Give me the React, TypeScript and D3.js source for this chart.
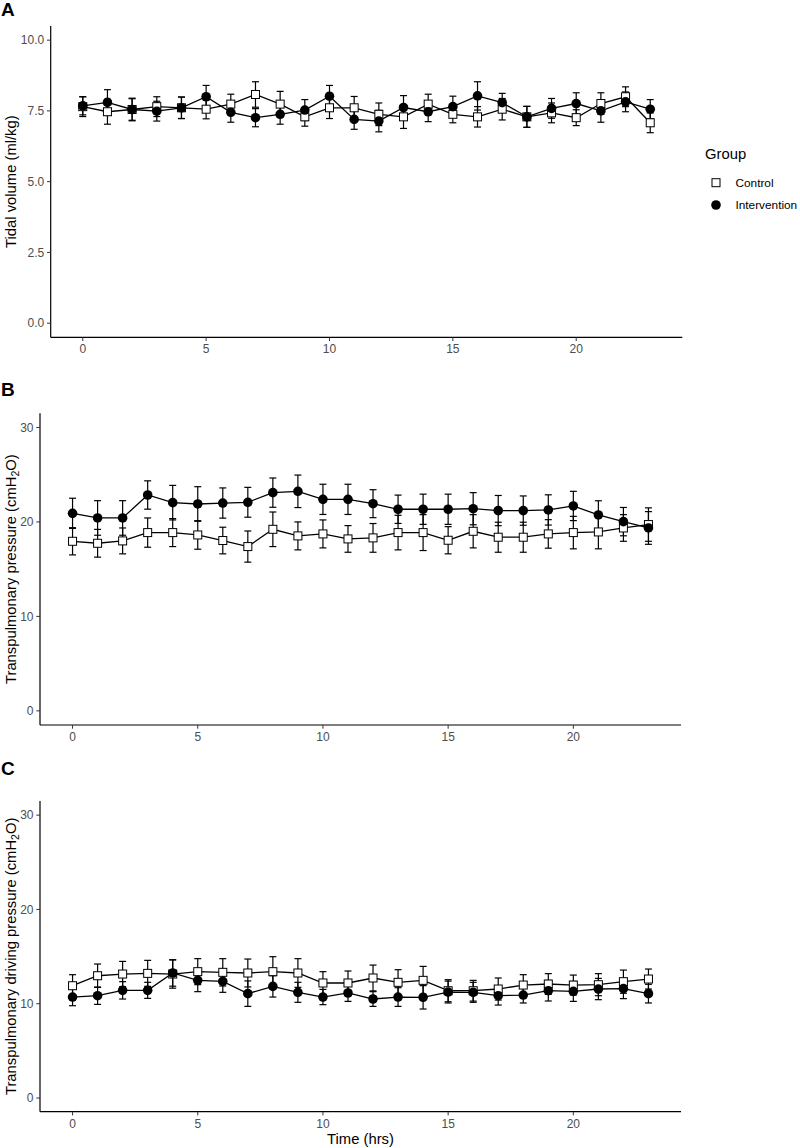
import React from "react";
import { scaleLinear, line } from "d3";

// hours 0..23
const hours = [0,1,2,3,4,5,6,7,8,9,10,11,12,13,14,15,16,17,18,19,20,21,22,23];

// Panel A - tidal volume (ml/kg)
const tvControl = [7.65,7.47,7.55,7.65,7.61,7.56,7.74,8.08,7.74,7.29,7.61,7.61,7.38,7.29,7.74,7.38,7.29,7.56,7.29,7.43,7.26,7.76,8.0,7.08];
const tvControlErr = [0.35,0.44,0.4,0.35,0.38,0.34,0.35,0.45,0.45,0.33,0.38,0.4,0.4,0.41,0.35,0.3,0.36,0.38,0.37,0.35,0.28,0.38,0.35,0.35];
const tvInterv = [7.68,7.8,7.55,7.49,7.61,8.0,7.45,7.26,7.38,7.53,8.02,7.2,7.14,7.62,7.47,7.65,8.03,7.79,7.29,7.59,7.76,7.5,7.82,7.56];
const tvIntervErr = [0.32,0.45,0.38,0.35,0.38,0.4,0.35,0.32,0.35,0.37,0.38,0.35,0.38,0.42,0.35,0.37,0.5,0.33,0.37,0.35,0.38,0.4,0.35,0.34];

// Panel B - transpulmonary pressure (cmH2O)
const tpControl = [17.95,17.74,17.99,18.87,18.87,18.62,18.03,17.39,19.22,18.52,18.73,18.2,18.31,18.87,18.87,18.06,19.01,18.38,18.38,18.73,18.87,18.94,19.36,19.72];
const tpControlErr = [1.44,1.47,1.37,1.55,1.48,1.51,1.41,1.65,1.83,1.48,1.48,1.41,1.52,1.83,1.9,1.44,1.76,1.59,1.59,1.51,1.72,1.79,1.41,1.77];
const tpInterv = [20.91,20.42,20.42,22.85,22.04,21.9,22.0,22.08,23.1,23.24,22.39,22.39,21.93,21.34,21.34,21.34,21.4,21.2,21.2,21.27,21.69,20.74,20.03,19.36];
const tpIntervErr = [1.6,1.83,1.83,1.5,1.83,1.83,1.6,1.58,1.55,1.72,1.6,1.6,1.48,1.5,1.6,1.6,1.7,1.6,1.55,1.6,1.55,1.5,1.5,1.73];

// Panel C - transpulmonary driving pressure (cmH2O)
const dpControl = [11.91,12.97,13.15,13.22,13.15,13.4,13.33,13.26,13.4,13.26,12.2,12.2,12.73,12.27,12.48,11.38,11.38,11.56,11.98,12.09,11.98,12.02,12.34,12.62];
const dpControlErr = [1.17,1.24,1.34,1.38,1.5,1.38,1.45,1.48,1.59,1.52,1.2,1.27,1.37,1.34,1.48,1.17,1.1,1.17,1.1,1.1,1.06,1.17,1.23,1.06];
const dpInterv = [10.71,10.85,11.42,11.42,13.26,12.48,12.37,11.07,11.84,11.21,10.71,11.14,10.5,10.71,10.68,11.24,11.21,10.85,10.92,11.38,11.31,11.56,11.6,11.07];
const dpIntervErr = [0.92,0.92,0.92,0.85,1.4,1.2,1.16,1.35,1.13,1.06,0.81,0.89,0.78,0.99,1.24,1.16,1.06,0.99,0.84,1.09,1.06,1.13,1.06,0.99];

const xTicks = [0, 5, 10, 15, 20];
const tvTicks = [0, 2.5, 5, 7.5, 10];
const tpTicks = [0, 10, 20, 30];
const groups = ["Control", "Intervention"];

const FONT = "'Liberation Sans', Arial, Helvetica, sans-serif";
const AXIS_GREY = "#4d4d4d";

type PanelProps = {
  letter: string;
  letterY: number;
  top: number;
  bottom: number;
  left: number;
  right: number;
  yDomain: [number, number];
  yTicks: number[];
  yFormat: (v: number) => string;
  title: React.ReactNode;
  control: number[];
  controlErr: number[];
  interv: number[];
  intervErr: number[];
};

function Panel(p: PanelProps) {
  const x = scaleLinear().domain([-1.3, 24.3]).range([p.left, p.right]);
  const y = scaleLinear().domain(p.yDomain).range([p.bottom, p.top]);
  const path = line<number>()
    .x((_, i) => x(hours[i]))
    .y((d) => y(d));
  const cap = 3.5;

  const errorBars = (vals: number[], errs: number[], key: string) =>
    vals.map((v, i) => {
      const cx = x(hours[i]);
      const y1 = y(v + errs[i]);
      const y2 = y(v - errs[i]);
      return (
        <g key={key + i} stroke="#000" strokeWidth={1.2}>
          <line x1={cx} x2={cx} y1={y1} y2={y2} />
          <line x1={cx - cap} x2={cx + cap} y1={y1} y2={y1} />
          <line x1={cx - cap} x2={cx + cap} y1={y2} y2={y2} />
        </g>
      );
    });

  return (
    <g>
      <text x={1} y={p.letterY} fontSize={19} fontWeight="bold" fontFamily={FONT}>
        {p.letter}
      </text>

      {/* axes */}
      <line x1={p.left} x2={p.left} y1={p.top} y2={p.bottom} stroke="#000" strokeWidth={1.2} />
      <line x1={p.left} x2={p.right} y1={p.bottom} y2={p.bottom} stroke="#000" strokeWidth={1.2} />

      {p.yTicks.map((t) => (
        <g key={"yt" + t}>
          <line x1={p.left - 3.7} x2={p.left} y1={y(t)} y2={y(t)} stroke="#333" strokeWidth={1} />
          <text
            x={p.left - 6.5}
            y={y(t)}
            dy="0.35em"
            textAnchor="end"
            fontSize={12}
            fill={AXIS_GREY}
            fontFamily={FONT}
          >
            {p.yFormat(t)}
          </text>
        </g>
      ))}

      {xTicks.map((t) => (
        <g key={"xt" + t}>
          <line x1={x(t)} x2={x(t)} y1={p.bottom} y2={p.bottom + 3.7} stroke="#333" strokeWidth={1} />
          <text
            x={x(t)}
            y={p.bottom + 16}
            textAnchor="middle"
            fontSize={12}
            fill={AXIS_GREY}
            fontFamily={FONT}
          >
            {t}
          </text>
        </g>
      ))}

      <text
        transform={`translate(${16},${(p.top + p.bottom) / 2}) rotate(-90)`}
        textAnchor="middle"
        fontSize={14.8}
        fontFamily={FONT}
        fill="#000"
      >
        {p.title}
      </text>

      {/* error bars, lines, points */}
      {errorBars(p.control, p.controlErr, "ce")}
      {errorBars(p.interv, p.intervErr, "ie")}
      <path d={path(p.control) ?? ""} fill="none" stroke="#000" strokeWidth={1.3} />
      <path d={path(p.interv) ?? ""} fill="none" stroke="#000" strokeWidth={1.3} />
      {p.control.map((v, i) => (
        <rect
          key={"cp" + i}
          x={x(hours[i]) - 4}
          y={y(v) - 4}
          width={8}
          height={8}
          fill="#fff"
          stroke="#000"
          strokeWidth={1}
        />
      ))}
      {p.interv.map((v, i) => (
        <circle key={"ip" + i} cx={x(hours[i])} cy={y(v)} r={4.8} fill="#000" />
      ))}
    </g>
  );
}

const cmH2O = (label: string) => (
  <>
    {label} (cmH
    <tspan dy={3} fontSize={10.5}>2</tspan>
    <tspan dy={-3}>O)</tspan>
  </>
);

export default function App() {
  const f1 = (v: number) => v.toFixed(1);
  const f0 = (v: number) => String(v);
  return (
    <svg
      width={800}
      height={1148}
      style={{ position: "absolute", left: 0, top: 0, background: "#fff" }}
    >
      <rect width={800} height={1148} fill="#fff" />
      <Panel
        letter="A"
        letterY={16}
        top={26}
        bottom={337.3}
        left={50.7}
        right={682.3}
        yDomain={[-0.5, 10.5]}
        yTicks={tvTicks}
        yFormat={f1}
        title="Tidal volume (ml/kg)"
        control={tvControl}
        controlErr={tvControlErr}
        interv={tvInterv}
        intervErr={tvIntervErr}
      />
      <Panel
        letter="B"
        letterY={396}
        top={413.3}
        bottom={725}
        left={40}
        right={681}
        yDomain={[-1.5, 31.5]}
        yTicks={tpTicks}
        yFormat={f0}
        title={cmH2O("Transpulmonary pressure")}
        control={tpControl}
        controlErr={tpControlErr}
        interv={tpInterv}
        intervErr={tpIntervErr}
      />
      <Panel
        letter="C"
        letterY={775}
        top={801}
        bottom={1111.7}
        left={40}
        right={681}
        yDomain={[-1.45, 31.5]}
        yTicks={tpTicks}
        yFormat={f0}
        title={cmH2O("Transpulmonary driving pressure")}
        control={dpControl}
        controlErr={dpControlErr}
        interv={dpInterv}
        intervErr={dpIntervErr}
      />

      <text x={360.5} y={1144} textAnchor="middle" fontSize={14.8} fontFamily={FONT}>
        Time (hrs)
      </text>

      {/* legend */}
      <g fontFamily={FONT}>
        <text x={705} y={159} fontSize={14.8}>Group</text>
        {groups.map((g, i) => {
          const cy = 182.7 + i * 22.3;
          return (
            <g key={g}>
              {i === 0 ? (
                <rect x={712} y={cy - 4} width={8} height={8} fill="#fff" stroke="#000" strokeWidth={1} />
              ) : (
                <circle cx={716} cy={cy} r={4.8} fill="#000" />
              )}
              <text x={735.5} y={cy} dy="0.35em" fontSize={11.8}>{g}</text>
            </g>
          );
        })}
      </g>
    </svg>
  );
}
